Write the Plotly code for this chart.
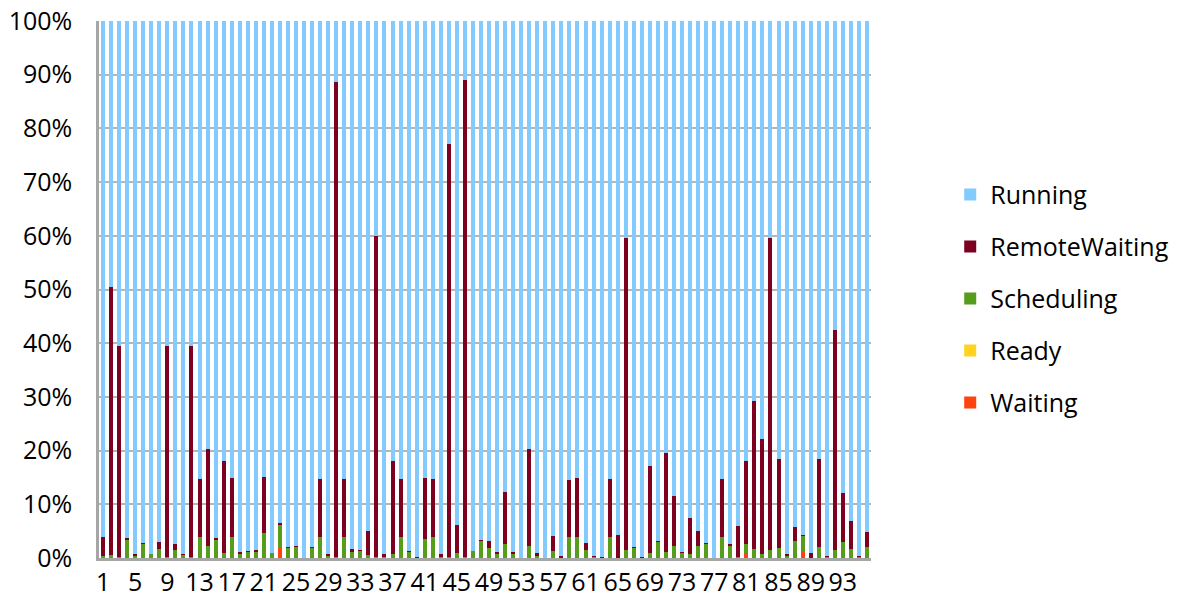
import plotly.graph_objects as go

categories = list(range(1, 97))
tick_values = list(range(1, 97, 4))
tick_labels = [str(v) for v in tick_values]
y_tick_values = list(range(0, 101, 10))
y_tick_labels = [f"{v}%" for v in y_tick_values]

waiting = [0]*22 + [2.1] + [0]*57 + [0.85] + [0]*6 + [1.35] + [0]*8
ready = [0]*96
scheduling = [0.3, 0.55, 0.2, 3.5, 0.4, 2.7, 0.7, 1.7, 0.2, 1.4,
              0.7, 0.2, 3.9, 2.2, 3.5, 0.9, 3.9, 0.75, 1.25, 1.3,
              4.65, 0.9, 4.2, 1.9, 2.1, 0, 1.9, 3.9, 0.4, 0.1,
              3.9, 1.2, 1.35, 0.55, 0.1, 0.25, 0.8, 3.9, 1.25, 0.1,
              3.55, 3.9, 0.1, 0.1, 0.9, 0.1, 1.3, 3.2, 1.85, 0.75,
              2.6, 0.9, 0, 2.2, 0.55, 0, 1.35, 0.1, 3.9, 3.9,
              1.5, 0.37, 0.05, 3.9, 0, 1.5, 2.0, 0.05, 0.9, 3.05,
              1.15, 2.25, 1.0, 0.8, 2.3, 2.75, 0, 3.9, 2.3, 0.15,
              1.75, 1.75, 0.8, 1.45, 1.9, 0.45, 3.2, 2.75, 0.05, 2.0,
              0.25, 1.5, 2.9, 1.7, 0.25, 2.05]
remote_waiting = [3.6, 49.95, 39.3, 0.2, 0.4, 0.1, 0, 1.2, 39.3, 1.3,
                  0.1, 39.3, 10.8, 18.1, 0.2, 17.2, 11.0, 0.3, 0.1, 0.1,
                  10.45, 0, 0.2, 0.1, 0.15, 0, 0.15, 10.9, 0.3, 88.5,
                  10.9, 0.5, 0.15, 4.55, 59.9, 0.5, 17.2, 10.8, 0.05, 0.15,
                  11.35, 10.75, 0.6, 77.0, 5.25, 88.9, 0, 0.1, 1.3, 0.35,
                  9.6, 0.15, 0, 18.1, 0.35, 0, 2.75, 0.3, 10.7, 10.95,
                  1.35, 0.03, 0.15, 10.75, 4.35, 58.1, 0.1, 0.15, 16.3, 0.1,
                  18.45, 9.25, 0.15, 6.7, 2.7, 0.1, 0, 10.8, 0.25, 5.8,
                  15.5, 27.45, 21.4, 58.15, 16.5, 0.3, 2.65, 0.1, 0.85, 16.4,
                  0.2, 41.0, 9.2, 5.1, 0.2, 2.75]
running = [96.1, 49.5, 60.5, 96.3, 99.2, 97.2, 99.3, 97.1, 60.5, 97.3,
           99.2, 60.5, 85.3, 79.7, 96.3, 81.9, 85.1, 98.95, 98.65, 98.6,
           84.9, 99.1, 93.5, 98.0, 97.75, 100, 97.95, 85.2, 99.3, 11.4,
           85.2, 98.3, 98.5, 94.9, 40.0, 99.25, 82.0, 85.3, 98.7, 99.75,
           85.1, 85.35, 99.3, 22.9, 93.85, 11.0, 98.7, 96.7, 96.85, 98.9,
           87.8, 98.95, 100, 79.7, 99.1, 100, 95.9, 99.6, 85.4, 85.15,
           97.15, 99.6, 99.8, 85.35, 95.65, 40.4, 97.9, 99.8, 82.8, 96.85,
           80.4, 88.5, 98.85, 92.5, 95.0, 97.15, 100, 85.3, 97.45, 94.05,
           81.9, 70.8, 77.8, 40.4, 81.6, 99.25, 94.15, 95.8, 99.1, 81.6,
           99.55, 57.5, 87.9, 93.2, 99.55, 95.2]

# (name, values, colour, legend rank) — stacked bottom to top
series = [
    ("Waiting", waiting, "#FF420E", 5),
    ("Ready", ready, "#FFD320", 4),
    ("Scheduling", scheduling, "#579D1C", 3),
    ("RemoteWaiting", remote_waiting, "#7E0021", 2),
    ("Running", running, "#83CAFF", 1),
]

fig = go.Figure()
for name, vals, color, rank in series:
    fig.add_trace(go.Bar(x=categories, y=vals, name=name, legendgroup=name,
                         legendrank=rank,
                         marker=dict(color=color, line=dict(width=0))))

font_family = "Open Sans"
fs = 25
fig.update_layout(
    width=1186, height=612,
    margin=dict(l=99, r=313, t=21, b=54),
    barmode="stack", barnorm="percent", bargap=0.5,
    plot_bgcolor="white", paper_bgcolor="white",
    font=dict(family=font_family, size=fs, color="#000000"),
    showlegend=True,
    legend=dict(traceorder="grouped", x=1.1026, xanchor="left", y=0.483, yanchor="middle",
                tracegroupgap=16.5, font=dict(size=fs)),
    xaxis=dict(range=[0.5, 96.5], tickmode="array", tickvals=tick_values, ticktext=tick_labels,
               showgrid=False, showline=True, linecolor="#A6A6A6", linewidth=2.5,
               ticks="", tickangle=0, tickfont=dict(size=fs), automargin=False),
    yaxis=dict(range=[0, 100], tickmode="array", tickvals=y_tick_values, ticktext=y_tick_labels,
               showgrid=True, gridcolor="#B5B5B5", gridwidth=2,
               showline=True, linecolor="#A6A6A6", linewidth=2.5,
               ticks="", ticklabelstandoff=19, tickfont=dict(size=fs), zeroline=False,
               automargin=False),
)

fig.write_html("out.html")
